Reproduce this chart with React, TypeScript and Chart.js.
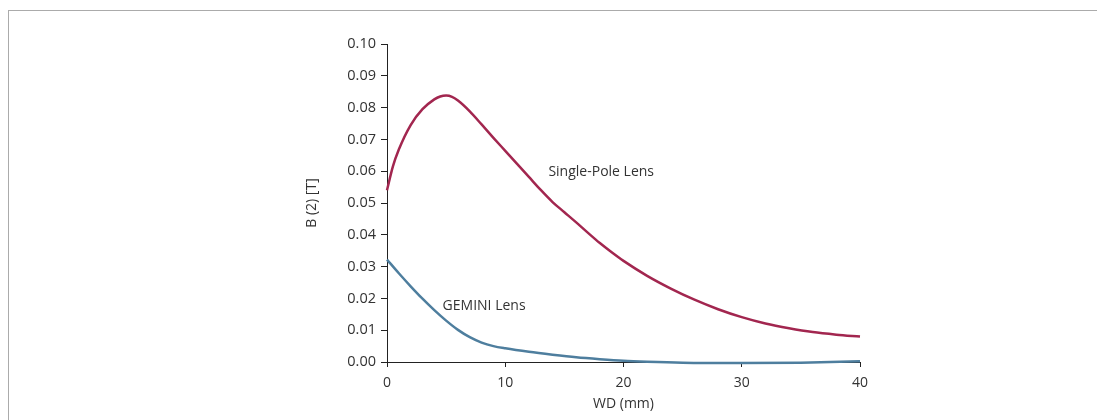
import { useEffect, useRef } from 'react';
import { Chart, registerables } from 'chart.js';

Chart.register(...registerables);

// Working distance (mm) and field B(2) [T]
const wdSingle = [0, 0.5, 1, 2, 3, 4, 4.5, 5, 5.5, 6, 7, 8, 9, 10, 11, 12, 13, 14, 15, 16, 17, 18, 19, 20, 22, 24, 26, 28, 30, 32, 34, 36, 38, 40];
const bSingle = [0.054, 0.0615, 0.0668, 0.0745, 0.0795, 0.0826, 0.0835, 0.0838, 0.0834, 0.0822, 0.0788, 0.0747, 0.0705, 0.0664, 0.0623, 0.0582, 0.0541, 0.0503, 0.0471, 0.0439, 0.0406, 0.0374, 0.0345, 0.0318, 0.0271, 0.0231, 0.0196, 0.0166, 0.0141, 0.0121, 0.0106, 0.0094, 0.0086, 0.008];

const wdGemini = [0, 1, 2, 3, 4, 5, 6, 7, 8, 9, 10, 12, 14, 16, 18, 20, 22, 25, 30, 35, 40];
const bGemini = [0.0322, 0.0279, 0.0238, 0.0199, 0.0163, 0.013, 0.0101, 0.0078, 0.0061, 0.005, 0.0043, 0.0032, 0.0023, 0.0015, 0.0009, 0.0004, 0.0001, -0.0002, -0.0003, -0.0002, 0.0002];

const xTickValues = [0, 10, 20, 30, 40];
const yTickValues = [0, 0.01, 0.02, 0.03, 0.04, 0.05, 0.06, 0.07, 0.08, 0.09, 0.1];

const seriesNames = ['Single-Pole Lens', 'GEMINI Lens'];
const labelAnchorsX = [13.65, 4.7];
const labelAnchorsY = [0.0597, 0.0177];

const FONT = "'Open Sans', 'Noto Sans', sans-serif";
const TEXT = '#333333';
const AXIS = '#222222';

export default function App() {
  const ref = useRef<HTMLCanvasElement | null>(null);

  useEffect(() => {
    if (!ref.current) return;
    const labelPlugin = {
      id: 'seriesLabels',
      afterDatasetsDraw(chart: any) {
        const { ctx, scales } = chart;
        ctx.save();
        ctx.font = `14px ${FONT}`;
        ctx.fillStyle = TEXT;
        ctx.textAlign = 'left';
        ctx.textBaseline = 'middle';
        seriesNames.forEach((name, i) => {
          ctx.fillText(name, scales.x.getPixelForValue(labelAnchorsX[i]), scales.y.getPixelForValue(labelAnchorsY[i]));
        });
        ctx.restore();
      },
    };

    const chart = new Chart(ref.current, {
      type: 'line',
      data: {
        datasets: [
          {
            label: seriesNames[0],
            data: wdSingle.map((x, i) => ({ x, y: bSingle[i] })),
            borderColor: '#a2264f',
            borderWidth: 2.5,
            pointRadius: 0,
            cubicInterpolationMode: 'monotone',
            clip: false as any,
          },
          {
            label: seriesNames[1],
            data: wdGemini.map((x, i) => ({ x, y: bGemini[i] })),
            borderColor: '#4e7e9e',
            borderWidth: 2.5,
            pointRadius: 0,
            cubicInterpolationMode: 'monotone',
            clip: false as any,
          },
        ],
      },
      options: {
        responsive: false,
        animation: false,
        devicePixelRatio: 1,
        layout: { padding: { left: 300, right: 237, top: 44, bottom: 0 } },
        plugins: { legend: { display: false }, tooltip: { enabled: false } },
        scales: {
          x: {
            type: 'linear',
            min: 0,
            max: 40,
            afterBuildTicks: (s: any) => {
              s.ticks = xTickValues.map((v) => ({ value: v }));
            },
            afterFit: (s: any) => {
              s.height = 58;
            },
            grid: { drawOnChartArea: false, drawTicks: true, tickLength: 5, color: AXIS, lineWidth: 1 },
            border: { display: true, color: AXIS, width: 1 },
            ticks: { color: TEXT, font: { family: FONT, size: 14 }, padding: 8, maxRotation: 0 },
            title: { display: true, text: 'WD (mm)', color: TEXT, font: { family: FONT, size: 14 }, padding: { top: 4, bottom: 8 } },
          },
          y: {
            type: 'linear',
            min: 0,
            max: 0.1,
            afterBuildTicks: (s: any) => {
              s.ticks = yTickValues.map((v) => ({ value: v }));
            },
            afterFit: (s: any) => {
              s.width = 87;
            },
            grid: { drawOnChartArea: false, drawTicks: true, tickLength: 6, color: AXIS, lineWidth: 1 },
            border: { display: true, color: AXIS, width: 1 },
            ticks: {
              color: TEXT,
              font: { family: FONT, size: 14.5 },
              padding: 5,
              callback: (v: any) => Number(v).toFixed(2),
            },
            title: { display: true, text: 'B (2) [T]', color: TEXT, font: { family: FONT, size: 14 }, padding: { top: 4, bottom: 4 } },
          },
        },
      },
      plugins: [labelPlugin],
    });
    return () => chart.destroy();
  }, []);

  return (
    <div style={{ position: 'absolute', left: 0, top: 0, width: 1097, height: 420, overflow: 'hidden', background: '#fff' }}>
      <div
        style={{
          position: 'absolute',
          left: 8,
          top: 10,
          width: 1089,
          height: 410,
          boxSizing: 'border-box',
          borderTop: '1px solid #ababab',
          borderLeft: '1px solid #ababab',
        }}
      />
      <canvas ref={ref} width={1097} height={420} style={{ position: 'absolute', left: 0, top: 0, width: 1097, height: 420 }} />
    </div>
  );
}
